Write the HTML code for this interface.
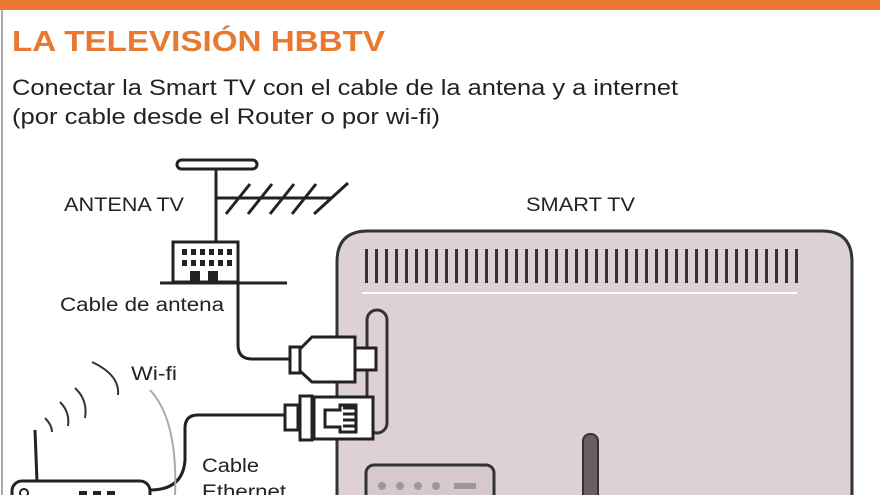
<!DOCTYPE html>
<html><head><style>
html,body{margin:0;padding:0;background:#fff;width:880px;height:495px;overflow:hidden;}
svg{display:block;}
text{font-family:"Liberation Sans",sans-serif;}
</style></head><body>
<svg width="880" height="495" viewBox="0 0 880 495" xmlns="http://www.w3.org/2000/svg">
<rect x="0" y="0" width="880" height="495" fill="#fff"/>
<rect x="0" y="0" width="880" height="10" fill="#e8792e"/>
<line x1="2" y1="10" x2="2" y2="495" stroke="#aaa" stroke-width="2"/>
<text x="12" y="51" font-size="29" font-weight="bold" fill="#e8792e" textLength="373" lengthAdjust="spacingAndGlyphs">LA TELEVISIÓN HBBTV</text>
<text x="12" y="95" font-size="22" fill="#222" textLength="666" lengthAdjust="spacingAndGlyphs">Conectar la Smart TV con el cable de la antena y a internet</text>
<text x="12" y="124" font-size="22" fill="#222" textLength="428" lengthAdjust="spacingAndGlyphs">(por cable desde el Router o por wi-fi)</text>
<text x="64" y="211" font-size="19" fill="#222" textLength="120" lengthAdjust="spacingAndGlyphs">ANTENA TV</text>
<text x="526" y="211" font-size="19" fill="#222" textLength="109" lengthAdjust="spacingAndGlyphs">SMART TV</text>
<text x="60" y="311" font-size="19" fill="#222" textLength="164" lengthAdjust="spacingAndGlyphs">Cable de antena</text>
<text x="131" y="380" font-size="19" fill="#222" textLength="46" lengthAdjust="spacingAndGlyphs">Wi-fi</text>
<text x="202" y="472" font-size="19" fill="#222" textLength="57" lengthAdjust="spacingAndGlyphs">Cable</text>
<text x="202" y="498" font-size="19" fill="#222" textLength="84" lengthAdjust="spacingAndGlyphs">Ethernet</text>
<g stroke="#222" stroke-width="3" fill="none">
<rect x="177" y="160" width="80" height="9" rx="4.5" fill="#fff"/>
<line x1="216" y1="169" x2="216" y2="241"/>
<line x1="216" y1="198" x2="332" y2="198"/>
<line x1="226" y1="214" x2="250" y2="184"/><line x1="248" y1="214" x2="272" y2="184"/><line x1="270" y1="214" x2="294" y2="184"/><line x1="292" y1="214" x2="316" y2="184"/><line x1="314" y1="214" x2="348" y2="183"/>
<rect x="173" y="242" width="65" height="40" fill="#fff"/>
<line x1="160" y1="283" x2="287" y2="283"/>
<path d="M238 283 V345 Q238 359 252 359 H290"/>
</g>
<g fill="#222">
<rect x="182" y="249" width="5" height="6"/><rect x="191" y="249" width="5" height="6"/><rect x="200" y="249" width="5" height="6"/><rect x="209" y="249" width="5" height="6"/><rect x="218" y="249" width="5" height="6"/><rect x="227" y="249" width="5" height="6"/>
<rect x="182" y="260" width="5" height="6"/><rect x="191" y="260" width="5" height="6"/><rect x="200" y="260" width="5" height="6"/><rect x="209" y="260" width="5" height="6"/><rect x="218" y="260" width="5" height="6"/><rect x="227" y="260" width="5" height="6"/>
<rect x="190" y="271" width="10" height="11"/><rect x="208" y="271" width="10" height="11"/>
</g>
<path d="M337 500 V262 Q337 231 368 231 H822 Q852 231 852 262 V500" fill="#ddd1d5" stroke="#333" stroke-width="3"/>
<g fill="#333">
<rect x="365" y="249" width="3" height="34"/><rect x="375" y="249" width="3" height="34"/><rect x="385" y="249" width="3" height="34"/><rect x="395" y="249" width="3" height="34"/><rect x="405" y="249" width="3" height="34"/><rect x="415" y="249" width="3" height="34"/><rect x="425" y="249" width="3" height="34"/><rect x="435" y="249" width="3" height="34"/><rect x="445" y="249" width="3" height="34"/><rect x="455" y="249" width="3" height="34"/><rect x="465" y="249" width="3" height="34"/><rect x="475" y="249" width="3" height="34"/><rect x="485" y="249" width="3" height="34"/><rect x="495" y="249" width="3" height="34"/><rect x="505" y="249" width="3" height="34"/><rect x="515" y="249" width="3" height="34"/><rect x="525" y="249" width="3" height="34"/><rect x="535" y="249" width="3" height="34"/><rect x="545" y="249" width="3" height="34"/><rect x="555" y="249" width="3" height="34"/><rect x="565" y="249" width="3" height="34"/><rect x="575" y="249" width="3" height="34"/><rect x="585" y="249" width="3" height="34"/><rect x="595" y="249" width="3" height="34"/><rect x="605" y="249" width="3" height="34"/><rect x="615" y="249" width="3" height="34"/><rect x="625" y="249" width="3" height="34"/><rect x="635" y="249" width="3" height="34"/><rect x="645" y="249" width="3" height="34"/><rect x="655" y="249" width="3" height="34"/><rect x="665" y="249" width="3" height="34"/><rect x="675" y="249" width="3" height="34"/><rect x="685" y="249" width="3" height="34"/><rect x="695" y="249" width="3" height="34"/><rect x="705" y="249" width="3" height="34"/><rect x="715" y="249" width="3" height="34"/><rect x="725" y="249" width="3" height="34"/><rect x="735" y="249" width="3" height="34"/><rect x="745" y="249" width="3" height="34"/><rect x="755" y="249" width="3" height="34"/><rect x="765" y="249" width="3" height="34"/><rect x="775" y="249" width="3" height="34"/><rect x="785" y="249" width="3" height="34"/><rect x="795" y="249" width="3" height="34"/>
</g>
<line x1="362" y1="293" x2="797" y2="293" stroke="#fff" stroke-width="2"/>
<rect x="367" y="310" width="20" height="123" rx="10" fill="none" stroke="#333" stroke-width="3"/>
<rect x="583" y="434" width="15" height="70" rx="7" fill="#6b5f60" stroke="#333" stroke-width="2"/>
<rect x="366" y="465" width="128" height="50" rx="8" fill="#d5c9cd" stroke="#333" stroke-width="3"/>
<g fill="#999"><circle cx="382" cy="486" r="4"/><circle cx="400" cy="486" r="4"/><circle cx="418" cy="486" r="4"/><circle cx="436" cy="486" r="4"/><rect x="454" y="483" width="22" height="6"/></g>
<g stroke="#222" stroke-width="3" fill="#fff">
<rect x="290" y="347" width="10" height="26"/>
<path d="M300 349 L312 337 H355 V382 H312 L300 371 Z"/>
<rect x="355" y="348" width="21" height="22"/>
</g>
<path d="M150 490 Q183 490 185 460 V428 Q185 415 198 415 H285" fill="none" stroke="#222" stroke-width="3"/>
<path d="M150 390 Q178 420 175 495" fill="none" stroke="#aaa" stroke-width="2"/>
<g stroke="#222" stroke-width="3" fill="#fff">
<rect x="285" y="405" width="13" height="25"/>
<rect x="300" y="396" width="12" height="44"/>
<rect x="314" y="397" width="59" height="42"/>
<path d="M325 410 H340 V405 H356 V432 H340 V427 H325 Z"/>
<line x1="343" y1="408" x2="356" y2="408"/><line x1="343" y1="414" x2="356" y2="414"/><line x1="343" y1="420" x2="356" y2="420"/><line x1="343" y1="426" x2="356" y2="426"/>
</g>
<line x1="35" y1="430" x2="37" y2="482" stroke="#222" stroke-width="3"/>
<rect x="12" y="481" width="138" height="40" rx="10" fill="#fff" stroke="#222" stroke-width="3"/>
<circle cx="24" cy="493" r="4" fill="none" stroke="#222" stroke-width="2"/>
<g fill="#222"><rect x="79" y="491" width="8" height="5"/><rect x="93" y="491" width="8" height="5"/><rect x="107" y="491" width="8" height="5"/></g>
<g fill="none" stroke="#333" stroke-width="2">
<path d="M45 418 Q52 425 52 432"/><path d="M60 402 Q70 412 68 426"/><path d="M75 388 Q88 400 85 418"/><path d="M92 362 Q120 375 118 395"/>
</g>
</svg>
</body></html>
